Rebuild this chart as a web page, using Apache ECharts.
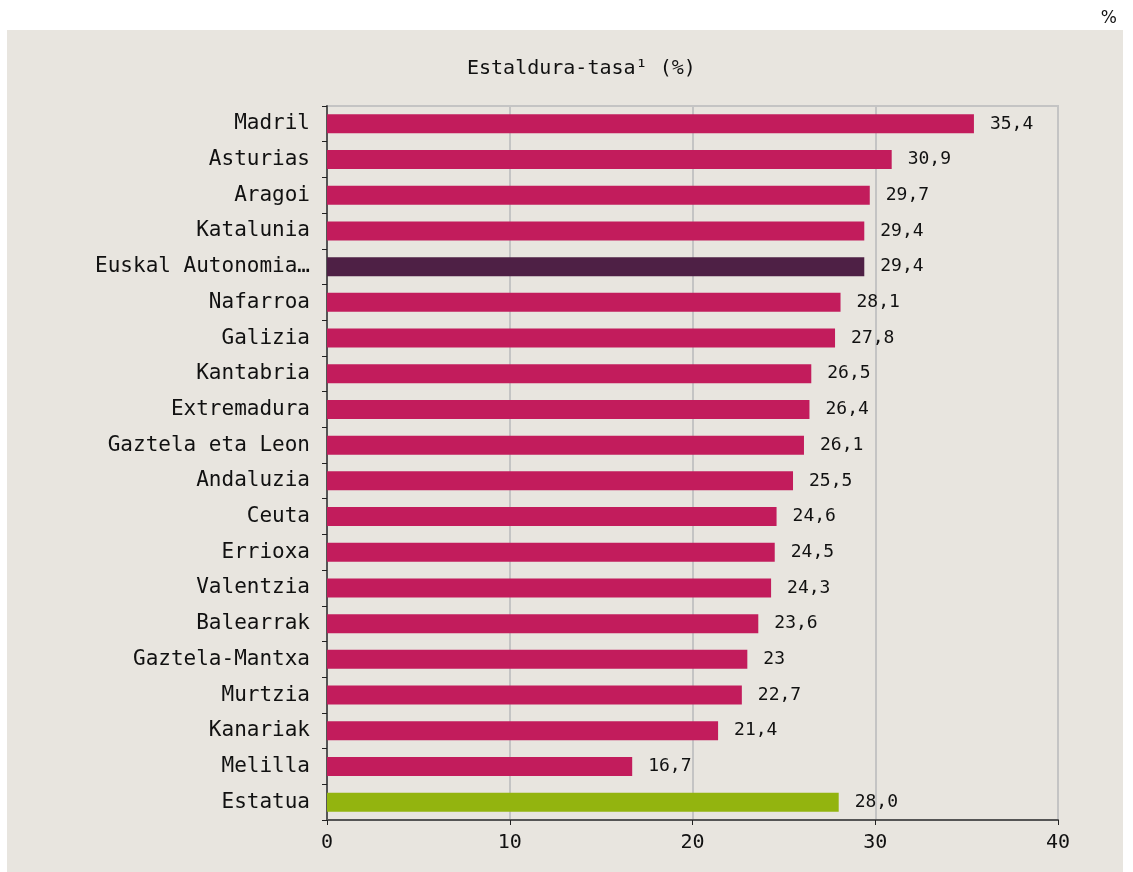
<!DOCTYPE html>
<html>
<head>
<meta charset="utf-8">
<script src="https://cdn.jsdelivr.net/npm/echarts@6/dist/echarts.min.js"></script>
<style>
  html, body { margin: 0; padding: 0; background: #fff; }
  #chart { width: 1133px; height: 872px; }
</style>
</head>
<body>
<div id="chart"></div>
<script>
    // eskualdeak eta balioak
    var regions = ['Madril', 'Asturias', 'Aragoi', 'Katalunia', 'Euskal Autonomia…', 'Nafarroa', 'Galizia',
        'Kantabria', 'Extremadura', 'Gaztela eta Leon', 'Andaluzia', 'Ceuta', 'Errioxa', 'Valentzia',
        'Balearrak', 'Gaztela-Mantxa', 'Murtzia', 'Kanariak', 'Melilla', 'Estatua'];
    var rates = [35.4, 30.9, 29.7, 29.4, 29.4, 28.1, 27.8, 26.5, 26.4, 26.1, 25.5, 24.6, 24.5, 24.3,
        23.6, 23.0, 22.7, 21.4, 16.7, 28.0];
    var rateLabels = ['35,4', '30,9', '29,7', '29,4', '29,4', '28,1', '27,8', '26,5', '26,4', '26,1',
        '25,5', '24,6', '24,5', '24,3', '23,6', '23', '22,7', '21,4', '16,7', '28,0'];
    var xTicks = [0, 10, 20, 30, 40];

    var font = '"DejaVu Sans Mono", monospace';
    var pink = '#C21C5C', purple = '#4E2045', green = '#93B40F';

    var myChart = echarts.init(document.getElementById('chart'));
    var option = {
        animation: false,
        backgroundColor: '#fff',
        graphic: [
            {
                type: 'rect',
                z: -10,
                shape: {x: 7, y: 30, width: 1116, height: 842},
                style: {fill: '#E8E5DF'}
            }
        ],
        title: [
            {
                text: 'Estaldura-tasa¹ (%)',
                left: 462,
                top: 54,
                textStyle: {fontFamily: font, fontSize: 20, fontWeight: 'normal', color: '#111'}
            },
            {
                text: '%',
                right: 11,
                top: 5,
                textStyle: {fontFamily: 'DejaVu Sans', fontSize: 17, fontWeight: 'normal', color: '#111'}
            }
        ],
        grid: {
            left: 327,
            right: 75,
            top: 106,
            bottom: 52,
            show: true,
            borderColor: '#C4C4C4',
            borderWidth: 2,
            backgroundColor: 'transparent'
        },
        xAxis: {
            type: 'value',
            min: 0,
            max: 40,
            interval: 10,
            axisLine: {show: true, lineStyle: {color: '#555', width: 2}},
            axisTick: {show: true, length: 5, lineStyle: {color: '#222'}},
            axisLabel: {
                fontFamily: font, fontSize: 20, color: '#111', margin: 13,
                formatter: function (v) { return xTicks.indexOf(v) >= 0 ? String(v) : ''; }
            },
            splitLine: {show: true, lineStyle: {color: '#C4C4C4', width: 2}}
        },
        yAxis: {
            type: 'category',
            inverse: true,
            data: regions,
            axisLine: {show: true, lineStyle: {color: '#555', width: 2}},
            axisTick: {show: true, length: 5, lineStyle: {color: '#222'}},
            axisLabel: {fontFamily: font, fontSize: 21, color: '#111', margin: 17}
        },
        series: [
            {
                type: 'bar',
                barWidth: 19,
                data: rates.map(function (v, i) {
                    var c = pink;
                    if (regions[i] === 'Euskal Autonomia…') c = purple;
                    if (regions[i] === 'Estatua') c = green;
                    return {value: v, itemStyle: {color: c}};
                }),
                label: {
                    show: true,
                    position: 'right',
                    distance: 16,
                    fontFamily: font,
                    fontSize: 18,
                    color: '#111',
                    formatter: function (p) { return rateLabels[p.dataIndex]; }
                }
            }
        ]
    };
    myChart.setOption(option);
</script>
</body>
</html>
